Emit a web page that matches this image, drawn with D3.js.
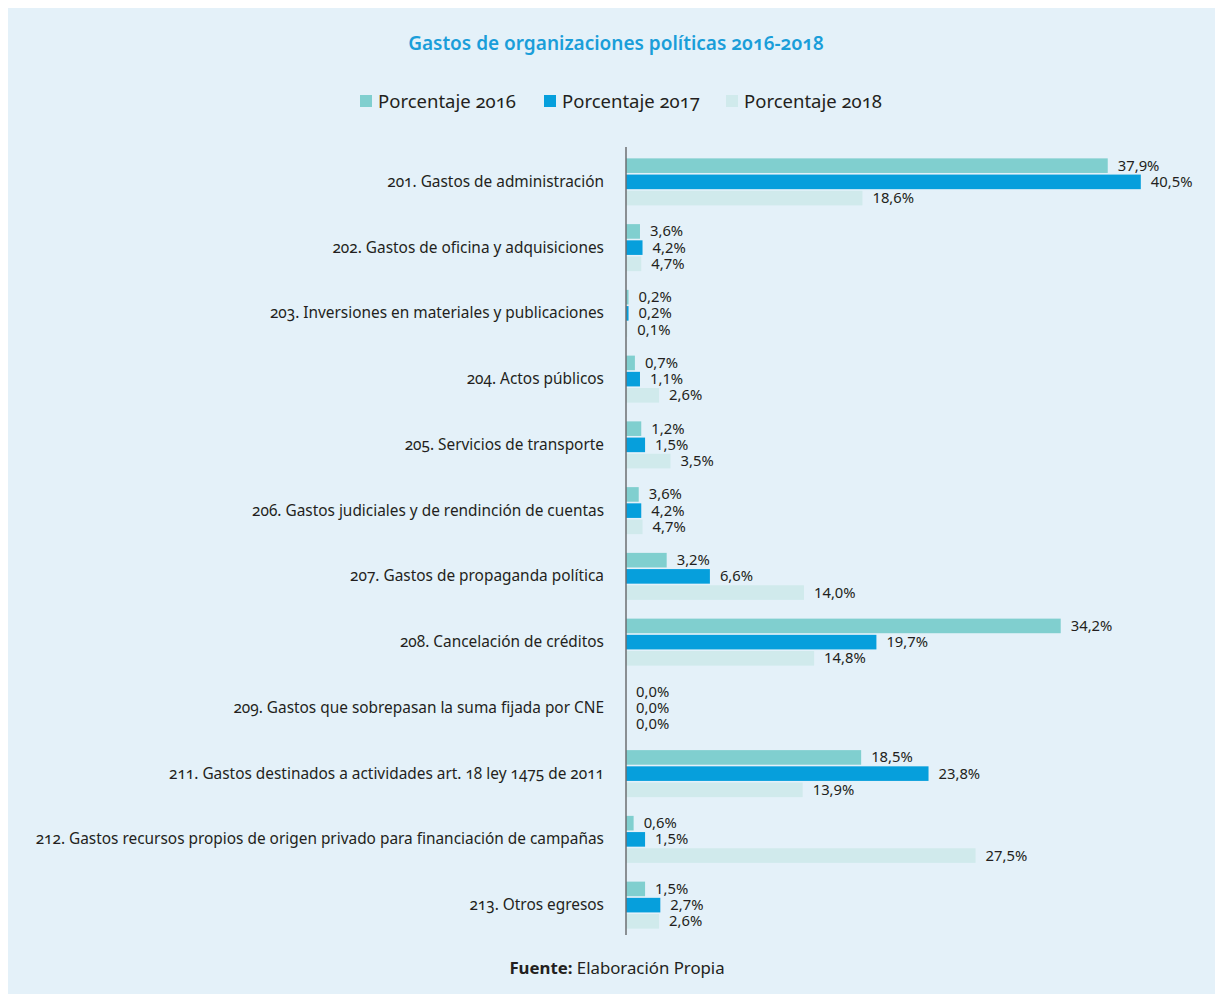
<!DOCTYPE html>
<html><head><meta charset="utf-8">
<script src="https://cdn.jsdelivr.net/npm/d3@7"></script>
<style>
html,body{margin:0;padding:0;background:#fff;}
svg{display:block;}
.onum{font-variant-numeric:oldstyle-nums;font-feature-settings:"onum" 1;}
</style></head>
<body>
<script>
const categories = [
  "201. Gastos de administración",
  "202. Gastos de oficina y adquisiciones",
  "203. Inversiones en materiales y publicaciones",
  "204. Actos públicos",
  "205. Servicios de transporte",
  "206. Gastos judiciales y de rendinción de cuentas",
  "207. Gastos de propaganda política",
  "208. Cancelación de créditos",
  "209. Gastos que sobrepasan la suma fijada por CNE",
  "211. Gastos destinados a actividades art. 18 ley 1475 de 2011",
  "212. Gastos recursos propios de origen privado para financiación de campañas",
  "213. Otros egresos"
];
const seriesNames = ["Porcentaje 2016", "Porcentaje 2017", "Porcentaje 2018"];
// bar lengths as drawn in the reference
const values2016 = [37.9, 1.1, 0.2, 0.7, 1.2, 1.0, 3.2, 34.2, 0.0, 18.5, 0.6, 1.5];
const values2017 = [40.5, 1.3, 0.2, 1.1, 1.5, 1.2, 6.6, 19.7, 0.0, 23.8, 1.5, 2.7];
const values2018 = [18.6, 1.2, 0.1, 2.6, 3.5, 1.3, 14.0, 14.8, 0.0, 13.9, 27.5, 2.6];
// value labels as printed in the reference
const labels2016 = ["37,9%","3,6%","0,2%","0,7%","1,2%","3,6%","3,2%","34,2%","0,0%","18,5%","0,6%","1,5%"];
const labels2017 = ["40,5%","4,2%","0,2%","1,1%","1,5%","4,2%","6,6%","19,7%","0,0%","23,8%","1,5%","2,7%"];
const labels2018 = ["18,6%","4,7%","0,1%","2,6%","3,5%","4,7%","14,0%","14,8%","0,0%","13,9%","27,5%","2,6%"];
const colors = ["#80cfcf", "#069fdc", "#d0eaec"];

const W = 1223, H = 996;
const svg = d3.select("body").append("svg").attr("width", W).attr("height", H);
svg.append("rect").attr("x", 8).attr("y", 8).attr("width", 1207).attr("height", 986).attr("fill", "#e4f1f9");

const font = "'Noto Sans', sans-serif";
svg.append("text").attr("class","onum").attr("x", 616).attr("y", 50).attr("text-anchor", "middle")
  .attr("font-family", font).attr("font-weight", 600).attr("font-size", 19).attr("fill", "#1a9ed9")
  .text("Gastos de organizaciones políticas 2016-2018");

// legend
const legX = [360, 544, 726];
seriesNames.forEach((s, i) => {
  svg.append("rect").attr("x", legX[i]).attr("y", 95).attr("width", 12).attr("height", 12).attr("fill", colors[i]);
  svg.append("text").attr("class","onum").attr("x", legX[i] + 18).attr("y", 108)
    .attr("font-family", font).attr("font-size", 18.5).attr("fill", "#231f20").text(s);
});

const x = d3.scaleLinear().domain([0, 45]).range([626, 1198]);
const y = d3.scaleBand().domain(categories).range([149, 938]).paddingInner(0.285).paddingOuter(0.1425);
const ys = d3.scaleBand().domain([0,1,2]).range([0, y.bandwidth()]).paddingInner(0.1);

const valueSets = [values2016, values2017, values2018];
const labelSets = [labels2016, labels2017, labels2018];

const g = svg.append("g");
categories.forEach((c, ci) => {
  valueSets.forEach((vals, si) => {
    const y0 = y(c) + ys(si);
    g.append("rect").attr("x", x(0)).attr("y", y0).attr("width", x(vals[ci]) - x(0))
      .attr("height", ys.bandwidth()).attr("fill", colors[si]);
    g.append("text").attr("x", x(vals[ci]) + 10).attr("y", y0 + ys.bandwidth()/2 + 5)
      .attr("font-family", font).attr("font-size", 14.8).attr("fill", "#231f20").text(labelSets[si][ci]);
  });
  g.append("text").attr("class","onum").attr("x", 604).attr("y", y(c) + y.bandwidth()/2 + 5)
    .attr("text-anchor", "end").attr("font-family", font).attr("font-size", 15.4).attr("fill", "#231f20").text(c);
});

svg.append("line").attr("x1", x(0)).attr("x2", x(0)).attr("y1", 147).attr("y2", 935)
  .attr("stroke", "#6d6e71").attr("stroke-width", 1.5);

const ft = svg.append("text").attr("x", 617).attr("y", 974).attr("text-anchor", "middle")
  .attr("font-family", font).attr("font-size", 16.8).attr("fill", "#231f20");
ft.append("tspan").attr("font-weight", 700).text("Fuente:");
ft.append("tspan").text(" Elaboración Propia");
</script>
</body></html>
